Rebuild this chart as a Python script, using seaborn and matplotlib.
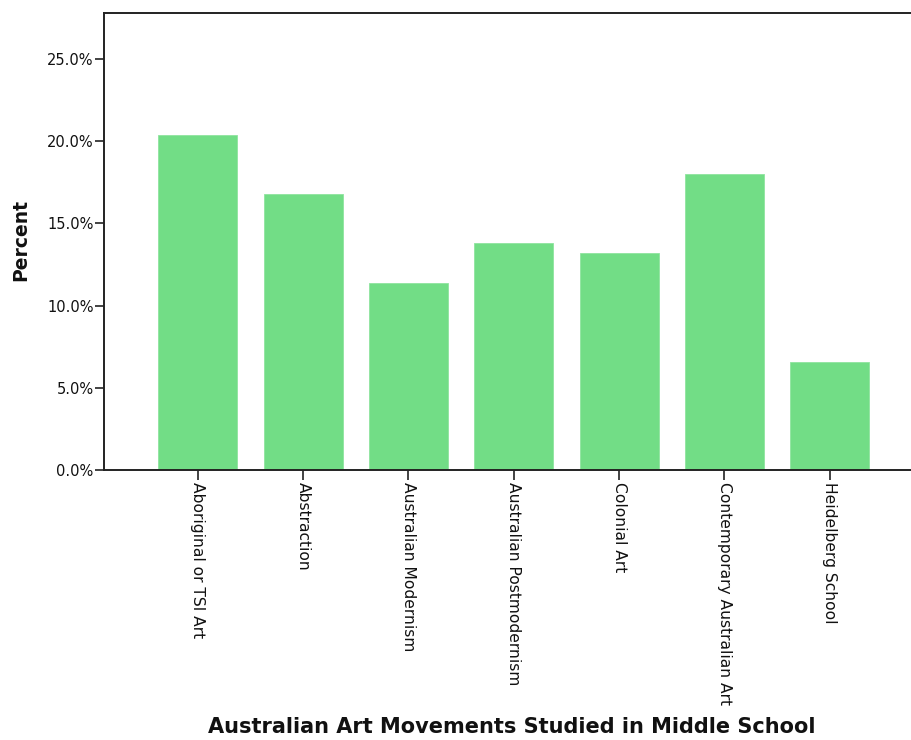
import matplotlib
matplotlib.use("Agg")
import matplotlib.pyplot as plt
import seaborn as sns
import pandas as pd
from matplotlib.ticker import FuncFormatter, MultipleLocator

categories = ["Aboriginal or TSI Art", "Abstraction", "Australian Modernism",
              "Australian Postmodernism", "Colonial Art",
              "Contemporary Australian Art", "Heidelberg School"]
percent = [20.4, 16.8, 11.4, 13.8, 13.2, 18.0, 6.6]

df = pd.DataFrame({"Movement": categories, "Percent": percent})

sns.set_style("ticks")
plt.rcParams['font.family'] = ['DejaVu Sans']
plt.rcParams['text.color'] = '#111111'
plt.rcParams['axes.labelcolor'] = '#111111'
plt.rcParams['xtick.color'] = '#111111'
plt.rcParams['ytick.color'] = '#111111'

fig = plt.figure(figsize=(9.12, 7.4), dpi=100)
ax = fig.add_axes([104/912, (740-470)/740, (912-104)/912, (470-13)/740])

sns.barplot(data=df, x="Movement", y="Percent", color="#72DD86",
            saturation=1, width=0.75, ax=ax, edgecolor="#8FE49F", linewidth=0.6)

ax.set_xlim(-0.89, 6.78)
ax.set_ylim(0, 27.8)
ax.yaxis.set_major_locator(MultipleLocator(5))
ax.yaxis.set_major_formatter(FuncFormatter(lambda v, p: f"{v:.1f}%"))

for s in ["left", "top", "bottom"]:
    ax.spines[s].set_visible(True)
    ax.spines[s].set_color("#222222")
    ax.spines[s].set_linewidth(1.4)
ax.spines["right"].set_visible(False)

ax.tick_params(axis="y", length=6.5, width=1.2, color="#222222", labelsize=10.5, pad=1)
ax.tick_params(axis="x", length=7, width=1.2, color="#222222", labelsize=11.2, pad=2)
for lbl in ax.get_xticklabels():
    lbl.set_rotation(-90)
    lbl.set_ha("center")
    lbl.set_va("top")

ax.set_ylabel("Percent", fontsize=13.5, fontweight="bold")
ax.yaxis.set_label_coords(-0.0916, 0.503)
ax.set_xlabel("Australian Art Movements Studied in Middle School",
              fontsize=15, fontweight="bold")
ax.xaxis.set_label_coords(0.505, -0.54)

fig.savefig("out.png", dpi=100)
